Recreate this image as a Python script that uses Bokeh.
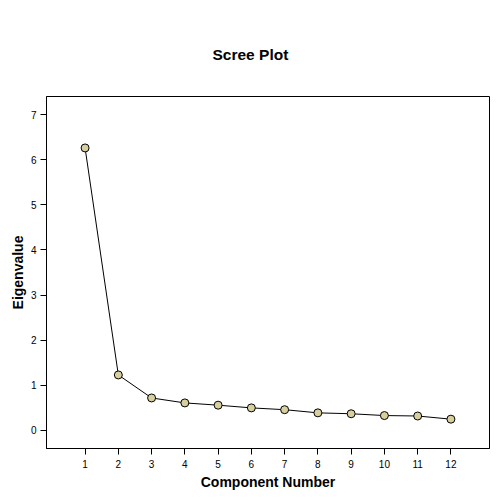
from bokeh.plotting import figure
from bokeh.models import FixedTicker, Range1d
from bokeh.embed import file_html
from bokeh.resources import INLINE

components = [1, 2, 3, 4, 5, 6, 7, 8, 9, 10, 11, 12]
eigenvalues = [6.26, 1.23, 0.72, 0.61, 0.56, 0.50, 0.46, 0.39, 0.37, 0.33, 0.32, 0.25]
x_ticks = components
y_ticks = [0, 1, 2, 3, 4, 5, 6, 7]

p = figure(width=492, height=494, output_backend="svg", toolbar_location=None,
           x_range=Range1d(-0.16, 13.16), y_range=Range1d(-0.4, 7.4),
           min_border_left=46, min_border_right=3, min_border_top=96, min_border_bottom=46,
           title="Scree Plot")

p.title.align = "left"
p.title.text_font = "Liberation Sans"
p.title.text_font_size = "15.5px"
p.title.text_font_style = "bold"
p.title.text_color = "black"
p.title.standoff = 68
p.title.offset = 166

p.grid.visible = False
p.outline_line_color = "black"
p.outline_line_width = 1
p.background_fill_color = "white"
p.border_fill_color = "white"

p.line(components, eigenvalues, line_color="black", line_width=1)
p.scatter(components, eigenvalues, size=8, fill_color="#d8cf9f", line_color="black", line_width=1)

for ax in (p.xaxis[0], p.yaxis[0]):
    ax.minor_tick_line_color = None
    ax.major_tick_in = 0
    ax.major_tick_out = 6
    ax.major_tick_line_color = "black"
    ax.axis_line_color = "black"
    ax.major_label_text_font = "Liberation Sans"
    ax.major_label_text_font_size = "10px"
    ax.major_label_text_color = "black"
    ax.axis_label_text_font = "Liberation Sans"
    ax.axis_label_text_font_size = "14px"
    ax.axis_label_text_font_style = "bold"
    ax.axis_label_text_color = "black"

p.xaxis[0].ticker = FixedTicker(ticks=x_ticks)
p.yaxis[0].ticker = FixedTicker(ticks=y_ticks)
p.xaxis[0].axis_label = "Component Number"
p.yaxis[0].axis_label = "Eigenvalue"
p.xaxis[0].major_label_standoff = 5
p.yaxis[0].major_label_standoff = 4
p.xaxis[0].axis_label_standoff = 3
p.yaxis[0].axis_label_standoff = 2

open("out.html", "w").write(file_html(p, INLINE))
